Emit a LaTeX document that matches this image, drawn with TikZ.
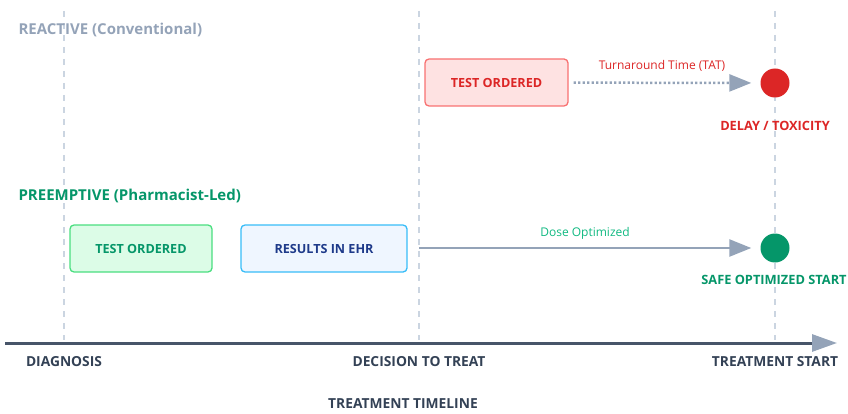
\documentclass[tikz,border=0pt]{standalone}
\usepackage{fontspec}
\setmainfont{Open Sans}
\usetikzlibrary{arrows.meta}
\definecolor{grid}{HTML}{CBD5E1}
\definecolor{slate}{HTML}{94A3B8}
\definecolor{axisc}{HTML}{475569}
\definecolor{redc}{HTML}{DC2626}
\definecolor{redfill}{HTML}{FEE2E2}
\definecolor{redline}{HTML}{F87171}
\definecolor{greenc}{HTML}{059669}
\definecolor{greenfill}{HTML}{DCFCE7}
\definecolor{greenline}{HTML}{4ADE80}
\definecolor{greenlbl}{HTML}{10B981}
\definecolor{bluefill}{HTML}{EFF6FF}
\definecolor{blueline}{HTML}{38BDF8}
\definecolor{bluetext}{HTML}{1E3A8A}
\definecolor{darktext}{HTML}{334155}
\begin{document}
\begin{tikzpicture}[x=1pt,y=-1pt,
  gridline/.style={grid,line width=1.5pt,dash pattern=on 6pt off 6pt},
  boxnode/.style={rounded corners=4pt,line width=1.3pt,minimum height=47pt,inner sep=0pt,font=\bfseries\fontsize{12.6}{14}\selectfont},
  dotnode/.style={circle,minimum size=29pt,inner sep=0pt},
  axislbl/.style={font=\bfseries\fontsize{13.8}{16}\selectfont,text=darktext},
  headlbl/.style={font=\bfseries\fontsize{15}{18}\selectfont,anchor=west},
  steplbl/.style={font=\bfseries\fontsize{12.8}{15}\selectfont},
  smalllbl/.style={font=\fontsize{12}{14}\selectfont},
  tipc/.style={-{Triangle[length=22pt,width=17pt,color=slate]}}
]
\useasboundingbox (0,0) rectangle (848,414);
% vertical guides
\coordinate (g1t) at (64,11); \coordinate (g1b) at (64,340);
\coordinate (g2t) at (419,11); \coordinate (g2b) at (419,340);
\coordinate (g3t) at (775,11); \coordinate (g3b) at (775,340);
\draw[gridline] (g1t) -- (g1b);
\draw[gridline] (g2t) -- (g2b);
\draw[gridline] (g3t) -- (g3b);
% axis
\coordinate (ax0) at (5,343);
\coordinate (ax1) at (837,343);
\draw[axisc,line width=3pt,-{Triangle[length=25pt,width=17pt,color=slate]}] (ax0) -- (ax1);
\node[axislbl] (diag) at (64,362) {DIAGNOSIS};
\node[axislbl] (dec) at (419,362) {DECISION TO TREAT};
\node[axislbl] (tstart) at (775,362) {TREATMENT START};
\node[axislbl] (tl) at (403,404) {TREATMENT TIMELINE};
% reactive
\node[headlbl,text=slate] (reh) at (15,30) {REACTIVE (Conventional)};
\node[boxnode,draw=redline,fill=redfill,text=redc,minimum width=143pt] (rto) at (496.5,82.5) {TEST ORDERED};
\node[dotnode,fill=redc] (rdot) at (775,83) {};
\node[steplbl,text=redc] (rlbl) at (775,126) {DELAY / TOXICITY};
\draw[slate,line width=2.5pt,dash pattern=on 2.2pt off 2.3pt,tipc,shorten <=5pt,shorten >=9pt] (rto) -- (rdot);
\node[smalllbl,text=redc] (tat) at (662,66) {Turnaround Time (TAT)};
% preemptive
\node[headlbl,text=greenc] (peh) at (15,196) {PREEMPTIVE (Pharmacist-Led)};
\node[boxnode,draw=greenline,fill=greenfill,text=greenc,minimum width=142pt] (pto) at (141,248.5) {TEST ORDERED};
\node[boxnode,draw=blueline,fill=bluefill,text=bluetext,minimum width=166pt] (ehr) at (324,248.5) {RESULTS IN EHR};
\node[dotnode,fill=greenc] (gdot) at (775,248) {};
\node[steplbl,text=greenc] (glbl) at (774,280) {SAFE OPTIMIZED START};
\coordinate (dstart) at (419,248);
\draw[slate,line width=2.5pt,tipc,shorten >=9pt] (dstart) -- (gdot);
\node[smalllbl,text=greenlbl] (dose) at (585,233) {Dose Optimized};
\end{tikzpicture}
\end{document}
